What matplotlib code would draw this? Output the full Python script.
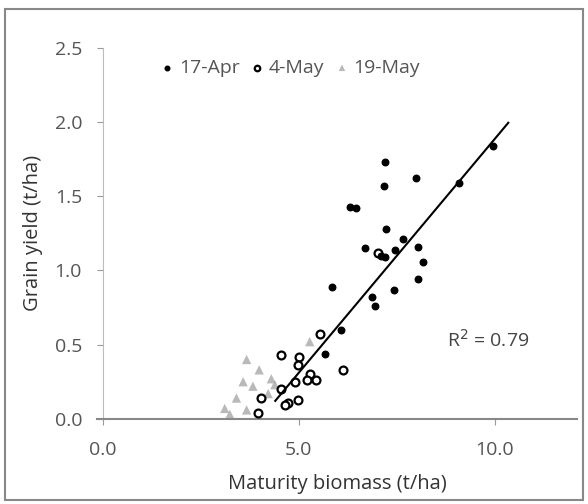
import matplotlib
matplotlib.use("Agg")
import matplotlib.pyplot as plt
import numpy as np

plt.rcParams['font.family'] = ['Open Sans', 'DejaVu Sans']

# 17-Apr (filled dots)
apr_x = [7.19, 8.00, 7.18, 6.32, 6.45, 7.22, 7.66, 6.70, 7.19, 7.45, 8.04, 8.16,
         8.04, 7.43, 5.85, 6.88, 6.94, 9.96, 9.09, 6.09, 5.66, 7.10]
apr_y = [1.73, 1.62, 1.57, 1.43, 1.42, 1.28, 1.21, 1.15, 1.09, 1.14, 1.16, 1.06,
         0.94, 0.87, 0.89, 0.82, 0.76, 1.84, 1.59, 0.60, 0.44, 1.10]

# 4-May (open circles)
may4_x = [5.54, 4.54, 5.01, 4.97, 6.13, 5.28, 5.43, 5.20, 4.54, 4.90, 4.03,
          4.73, 4.98, 4.64, 3.96, 7.02]
may4_y = [0.57, 0.43, 0.42, 0.36, 0.33, 0.30, 0.26, 0.26, 0.20, 0.25, 0.14,
          0.11, 0.13, 0.09, 0.04, 1.12]

# 19-May (grey triangles)
may19_x = [3.67, 3.99, 3.58, 4.30, 3.83, 3.41, 4.22, 3.11, 3.24, 3.67, 4.39, 5.28]
may19_y = [0.40, 0.33, 0.25, 0.27, 0.22, 0.14, 0.17, 0.07, 0.03, 0.06, 0.23, 0.52]

# trendline
trend_x = [4.40, 10.35]
slope, intercept = 0.315, -1.265

fig = plt.figure(figsize=(5.88, 5.04), dpi=100)
ax = fig.add_axes([0.165, 0.169, 0.816, 0.736])

ax.scatter(may19_x, may19_y, marker='^', s=45, color='#a8a8a8', alpha=0.8,
           edgecolors='none', label='19-May', zorder=2)
ax.scatter(may4_x, may4_y, marker='o', s=32, facecolors='white',
           edgecolors='black', linewidths=1.6, label='4-May', zorder=3)
ax.scatter(apr_x, apr_y, marker='o', s=22, color='black', label='17-Apr', zorder=4)

tx = np.array(trend_x)
ax.plot(tx, slope * tx + intercept, color='black', lw=1.5, zorder=5)

ax.text(8.78, 0.53, 'R$^2$ = 0.79', fontsize=14, color='#444444', va='center')

ax.set_xlim(-0.15, 12.1)
ax.set_ylim(0, 2.5)
ax.set_xticks([0, 5, 10])
ax.set_xticklabels(['0.0', '5.0', '10.0'])
ax.set_yticks([0, 0.5, 1.0, 1.5, 2.0, 2.5])
ax.set_yticklabels(['0.0', '0.5', '1.0', '1.5', '2.0', '2.5'])

for s in ['top', 'right']:
    ax.spines[s].set_visible(False)
ax.spines['left'].set_position(('data', 0))
ax.spines['left'].set_color('#bbbbbb')
ax.spines['bottom'].set_color('#888888')
ax.spines['bottom'].set_linewidth(1.5)
ax.tick_params(axis='both', colors='#999999', labelcolor='#555555',
               labelsize=14, length=4)
ax.tick_params(axis='x', pad=12)
ax.tick_params(axis='y', pad=11)

ax.set_xlabel('Maturity biomass (t/ha)', fontsize=14.5, color='#333333')
ax.set_ylabel('Grain yield (t/ha)', fontsize=14.5, color='#333333')
ax.xaxis.set_label_coords(0.5, -0.15)
ax.yaxis.set_label_coords(-0.112, 0.5)

h, l = ax.get_legend_handles_labels()
leg = ax.legend(h[::-1], l[::-1], loc='center', bbox_to_anchor=(0.398, 0.946),
                ncol=3, frameon=False, handletextpad=0.0, columnspacing=0.3,
                handlelength=1.2, fontsize=14, markerscale=0.7)
for t in leg.get_texts():
    t.set_color('#555555')

# outer frame
fig.patches.append(plt.Rectangle((0.009, 0.008), 0.982, 0.975, transform=fig.transFigure,
                                 fill=False, edgecolor='#888888', lw=1.5))

fig.savefig('out.png', dpi=100)
